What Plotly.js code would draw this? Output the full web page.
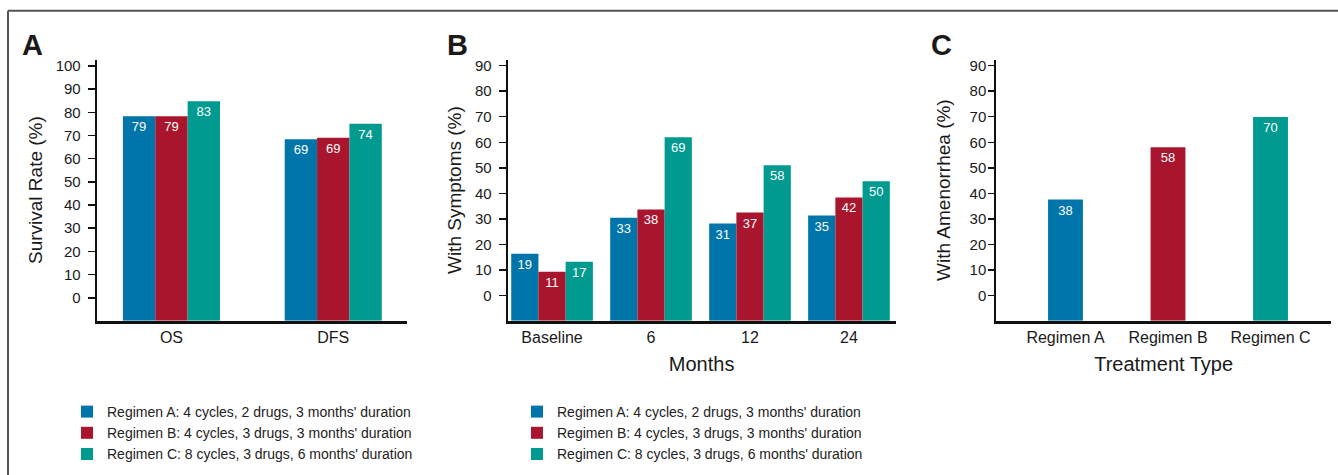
<!DOCTYPE html>
<html>
<head>
<meta charset="utf-8">
<script src="https://cdn.plot.ly/plotly-3.0.1.min.js"></script>
<style>
html,body{margin:0;padding:0;background:#fff;}
#chart{width:1338px;height:475px;}
</style>
</head>
<body>
<div id="chart"></div>
<script>
// ---------- Data ----------
const regimenNames = [
  "Regimen A: 4 cycles, 2 drugs, 3 months' duration",
  "Regimen B: 4 cycles, 3 drugs, 3 months' duration",
  "Regimen C: 8 cycles, 3 drugs, 6 months' duration"
];
const colors = ["#0075A9", "#A8152D", "#009A90"];

// Panel A: survival
const survivalCategories = ["OS", "DFS"];
const survivalA = [78.3, 68.4];
const survivalB = [78.3, 69.0];
const survivalC = [84.8, 75.0];
const survivalLabelsA = ["79", "69"];
const survivalLabelsB = ["79", "69"];
const survivalLabelsC = ["83", "74"];

// Panel B: symptoms by month
const monthCategories = ["Baseline", "6", "12", "24"];
const symptomsA = [16.4, 30.5, 28.2, 31.3];
const symptomsB = [9.3, 33.7, 32.5, 38.4];
const symptomsC = [13.2, 62.0, 51.0, 44.7];
const symptomsLabelsA = ["19", "33", "31", "35"];
const symptomsLabelsB = ["11", "38", "37", "42"];
const symptomsLabelsC = ["17", "69", "58", "50"];

// Panel C: amenorrhea by treatment
const treatmentCategories = ["Regimen A", "Regimen B", "Regimen C"];
const amenorrhea = [37.6, 58.1, 69.9];
const amenorrheaLabels = ["38", "58", "70"];

const tickValsA = [0,10,20,30,40,50,60,70,80,90,100];
const tickValsBC = [0,10,20,30,40,50,60,70,80,90];

// ---------- Helpers ----------
const W = 1338, H = 475;
const px = v => v / W;
const py = v => 1 - v / H;
const FONT = "Liberation Sans, Arial, Helvetica, sans-serif";
const baseA = -9.9, baseBC = -9.83;

function barTrace(cats, vals, labels, color, name, xa, ya, base, width, offset, legend, showlegend) {
  return {
    type: "bar", x: cats, y: vals.map(v => v - base), base: base,
    text: labels, textposition: "inside", insidetextanchor: "end",
    textangle: 0, textfont: {color: "#ffffff", size: 13, family: FONT},
    marker: {color: color, line: {width: 0}},
    width: width, offset: offset, name: name,
    xaxis: xa, yaxis: ya, legend: legend, showlegend: showlegend,
    legendgroup: name + legend, hoverinfo: "x+text"
  };
}

const data = [
  barTrace(survivalCategories, survivalA, survivalLabelsA, colors[0], regimenNames[0], "x", "y", baseA, 0.2, -0.3, "legend", true),
  barTrace(survivalCategories, survivalB, survivalLabelsB, colors[1], regimenNames[1], "x", "y", baseA, 0.2, -0.1, "legend", true),
  barTrace(survivalCategories, survivalC, survivalLabelsC, colors[2], regimenNames[2], "x", "y", baseA, 0.2, 0.1, "legend", true),
  barTrace(monthCategories, symptomsA, symptomsLabelsA, colors[0], regimenNames[0], "x2", "y2", baseBC, 0.275, -0.4125, "legend2", true),
  barTrace(monthCategories, symptomsB, symptomsLabelsB, colors[1], regimenNames[1], "x2", "y2", baseBC, 0.275, -0.1375, "legend2", true),
  barTrace(monthCategories, symptomsC, symptomsLabelsC, colors[2], regimenNames[2], "x2", "y2", baseBC, 0.275, 0.1375, "legend2", true),
  barTrace(treatmentCategories, amenorrhea, amenorrheaLabels, colors, "Amenorrhea", "x3", "y3", baseBC, 0.34, -0.17, "legend", false)
];

const yDomain = [py(320.7), py(59.5)];

function yAxis(anchor, range, tickvals, title, standoff, ticklen, tls) {
  return {
    anchor: anchor, domain: yDomain, range: range,
    tickvals: tickvals, ticks: "outside", ticklen: ticklen, tickwidth: 1.5, tickcolor: "#111",
    showline: true, linecolor: "#111", linewidth: 2,
    showgrid: false, zeroline: false, fixedrange: true,
    tickfont: {family: FONT, size: 15, color: "#1a1a1a"},
    ticklabelstandoff: tls,
    title: {text: title, font: {family: FONT, size: 19, color: "#1a1a1a"}, standoff: standoff}
  };
}
function xAxis(domain, anchor, range, title) {
  return {
    anchor: anchor, domain: domain, range: range, type: "category",
    showline: true, linecolor: "#111", linewidth: 3, ticks: "",
    showgrid: false, zeroline: false, fixedrange: true,
    tickfont: {family: FONT, size: 16, color: "#1a1a1a"},
    title: title ? {text: title, font: {family: FONT, size: 20, color: "#1a1a1a"}, standoff: 13} : undefined
  };
}

const legendFont = {family: FONT, size: 14, color: "#222"};
const layout = {
  width: W, height: H,
  margin: {l: 0, r: 0, t: 0, b: 0},
  paper_bgcolor: "#ffffff", plot_bgcolor: "rgba(0,0,0,0)",
  barmode: "overlay",
  showlegend: true,
  xaxis: xAxis([px(96.7), px(406.7)], "y", [-0.462, 1.454], null),
  yaxis: yAxis("x", [baseA, 102.76], tickValsA, "Survival Rate (%)", 8, 7, 4),
  xaxis2: xAxis([px(507.7), px(895.5)], "y2", [-0.448, 3.47], "Months"),
  yaxis2: yAxis("x2", [baseBC, 92.4], tickValsBC, "With Symptoms (%)", 8, 7, 4),
  xaxis3: xAxis([px(996.3), px(1331)], "y3", [-0.675, 2.59], "Treatment Type"),
  yaxis3: yAxis("x3", [baseBC, 92.4], tickValsBC, "With Amenorrhea (%)", 14, 6, -1),
  legend: {x: px(67), xanchor: "left", y: py(396), yanchor: "top", font: legendFont,
           bgcolor: "rgba(0,0,0,0)", borderwidth: 0, traceorder: "grouped", tracegroupgap: 0, itemclick: false, itemdoubleclick: false},
  legend2: {x: px(517), xanchor: "left", y: py(396), yanchor: "top", font: legendFont,
           bgcolor: "rgba(0,0,0,0)", borderwidth: 0, traceorder: "grouped", tracegroupgap: 0, itemclick: false, itemdoubleclick: false},
  annotations: [
    {text: "<b>A</b>", x: px(20), y: py(27), xref: "paper", yref: "paper", xanchor: "left", yanchor: "top", showarrow: false, font: {family: FONT, size: 29, color: "#1a1a1a"}},
    {text: "<b>B</b>", x: px(445), y: py(27), xref: "paper", yref: "paper", xanchor: "left", yanchor: "top", showarrow: false, font: {family: FONT, size: 29, color: "#1a1a1a"}},
    {text: "<b>C</b>", x: px(929), y: py(27), xref: "paper", yref: "paper", xanchor: "left", yanchor: "top", showarrow: false, font: {family: FONT, size: 29, color: "#1a1a1a"}}
  ],
  shapes: [
    {type: "line", xref: "paper", yref: "paper", x0: px(8), x1: 1, y0: py(10.7), y1: py(10.7), line: {color: "#555", width: 2}},
    {type: "line", xref: "paper", yref: "paper", x0: px(8), x1: px(8), y0: py(10.7), y1: 0, line: {color: "#555", width: 2}}
  ]
};

Plotly.newPlot("chart", data, layout, {displayModeBar: false, staticPlot: true});
</script>
</body>
</html>
